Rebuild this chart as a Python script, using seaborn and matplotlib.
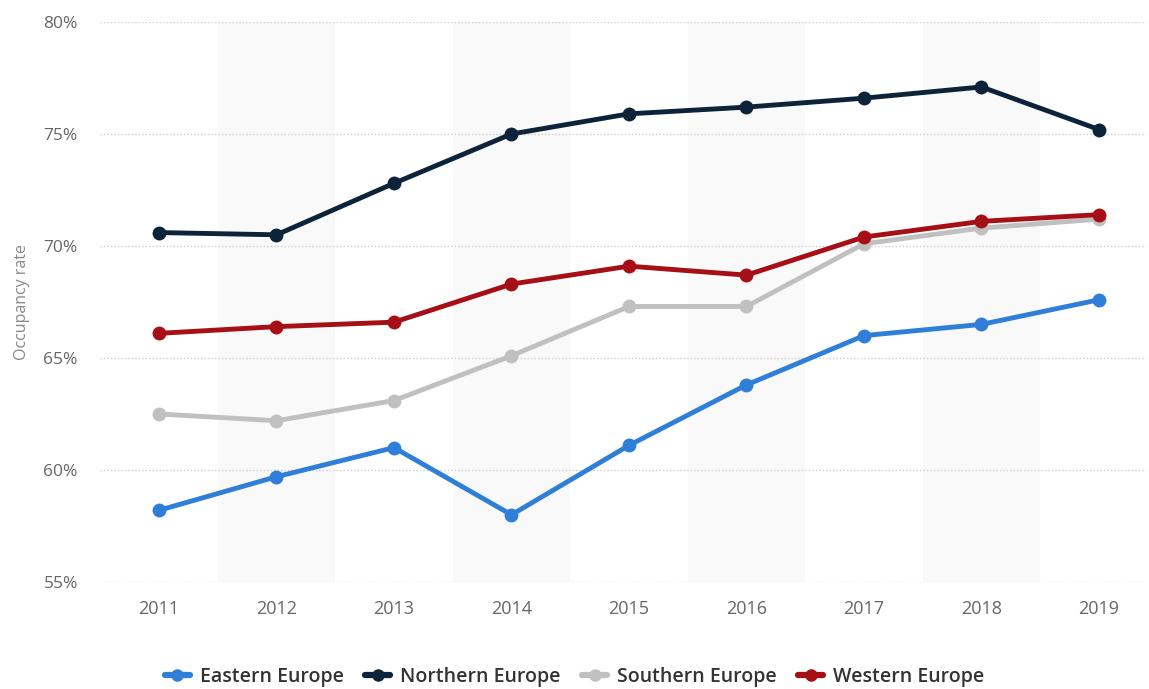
import matplotlib
matplotlib.use("Agg")
import matplotlib.pyplot as plt
import seaborn as sns
import pandas as pd
from matplotlib.lines import Line2D

years = ["2011", "2012", "2013", "2014", "2015", "2016", "2017", "2018", "2019"]
eastern = [58.2, 59.7, 61.0, 58.0, 61.1, 63.8, 66.0, 66.5, 67.6]
northern = [70.6, 70.5, 72.8, 75.0, 75.9, 76.2, 76.6, 77.1, 75.2]
southern = [62.5, 62.2, 63.1, 65.1, 67.3, 67.3, 70.1, 70.8, 71.2]
western = [66.1, 66.4, 66.6, 68.3, 69.1, 68.7, 70.4, 71.1, 71.4]
series_names = ["Eastern Europe", "Northern Europe", "Southern Europe", "Western Europe"]
colors = ["#2f7ed8", "#0d233a", "#c0c0c0", "#a50f15"]
y_ticks = [55, 60, 65, 70, 75, 80]

sns.set_style("white")
plt.rcParams['font.family'] = ['Open Sans', 'DejaVu Sans']

rows = []
for name, vals in zip(series_names, [eastern, northern, southern, western]):
    for i, (yr, v) in enumerate(zip(years, vals)):
        rows.append({"idx": i, "year": yr, "value": v, "region": name})
df = pd.DataFrame(rows)

fig = plt.figure(figsize=(11.49, 6.89), dpi=100)
ax = fig.add_axes([100/1149, 1-582/689, 1046/1149, 560/689])

# alternating bands
for i in range(1, len(years), 2):
    ax.axvspan(i - 0.5, i + 0.5, color="#f9f9f9", zorder=0, lw=0)

for y in y_ticks:
    ax.axhline(y, color="#cccccc", lw=1, ls=(0, (1, 1.5)), zorder=1)

sns.lineplot(data=df, x="idx", y="value", hue="region", hue_order=series_names,
             palette=colors, marker="o", markersize=10, markeredgewidth=0,
             linewidth=3.5, ax=ax, legend=False, zorder=3)

ax.set_xlim(-0.502, 8.4)
ax.set_ylim(55, 80)
ax.set_xticks(range(len(years)))
ax.set_xticklabels(years)
ax.set_yticks(y_ticks)
ax.set_yticklabels([f"{t}%" for t in y_ticks])
ax.tick_params(axis='both', length=0, colors="#666666", labelsize=12.5)
ax.tick_params(axis='x', pad=13, labelsize=13)
ax.tick_params(axis='y', pad=16)
for s in ax.spines.values():
    s.set_visible(False)
ax.set_xlabel("")
ax.set_ylabel("Occupancy rate", color="#888888", fontsize=11.5)
ax.yaxis.set_label_coords(-70/1046, 0.5)

handles = [Line2D([0], [0], color=c, lw=4.5, marker="o", markersize=9, markeredgewidth=0) for c in colors]
fig.legend(handles, series_names, loc="center", bbox_to_anchor=(0.5, 1-677/689),
           ncol=4, frameon=False, prop={"size": 14, "weight": "semibold"},
           handlelength=1.3, columnspacing=1.1,
           handletextpad=0.5, labelcolor="#333333")

fig.savefig("out.png", dpi=100)
